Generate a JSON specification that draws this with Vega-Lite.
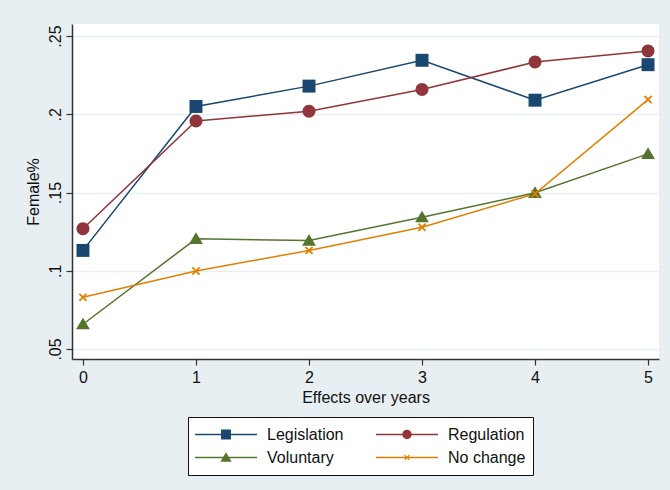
{
  "$schema": "https://vega.github.io/schema/vega-lite/v6.json",
  "width": 587,
  "height": 335,
  "autosize": {"type": "none"},
  "padding": {"left": 72, "top": 24, "right": 11, "bottom": 131},
  "background": "#e8eff2",
  "config": {
    "view": {"fill": "white", "stroke": null},
    "font": "Liberation Sans",
    "axis": {
      "labelFont": "Liberation Sans",
      "titleFont": "Liberation Sans",
      "labelFontSize": 16,
      "titleFontSize": 16,
      "titleFontWeight": "normal",
      "labelColor": "#111",
      "titleColor": "#111",
      "domainColor": "#333",
      "domainWidth": 1.5,
      "tickColor": "#333",
      "tickWidth": 1.2,
      "tickSize": 6
    },
    "legend": {
      "labelFont": "Liberation Sans",
      "labelFontSize": 16,
      "labelColor": "#111"
    }
  },
  "data": {
    "values": [
      {"year": 0, "series": "Legislation", "value": 0.113},
      {"year": 1, "series": "Legislation", "value": 0.205},
      {"year": 2, "series": "Legislation", "value": 0.218},
      {"year": 3, "series": "Legislation", "value": 0.2345},
      {"year": 4, "series": "Legislation", "value": 0.209},
      {"year": 5, "series": "Legislation", "value": 0.2317},
      {"year": 0, "series": "Regulation", "value": 0.1268},
      {"year": 1, "series": "Regulation", "value": 0.1957},
      {"year": 2, "series": "Regulation", "value": 0.2019},
      {"year": 3, "series": "Regulation", "value": 0.2158},
      {"year": 4, "series": "Regulation", "value": 0.2334},
      {"year": 5, "series": "Regulation", "value": 0.2404},
      {"year": 0, "series": "Voluntary", "value": 0.0658},
      {"year": 1, "series": "Voluntary", "value": 0.1204},
      {"year": 2, "series": "Voluntary", "value": 0.1193},
      {"year": 3, "series": "Voluntary", "value": 0.1342},
      {"year": 4, "series": "Voluntary", "value": 0.1498},
      {"year": 5, "series": "Voluntary", "value": 0.1747},
      {"year": 0, "series": "No change", "value": 0.083},
      {"year": 1, "series": "No change", "value": 0.0998},
      {"year": 2, "series": "No change", "value": 0.113},
      {"year": 3, "series": "No change", "value": 0.1278},
      {"year": 4, "series": "No change", "value": 0.1492},
      {"year": 5, "series": "No change", "value": 0.2094}
    ]
  },
  "encoding": {
    "x": {
      "field": "year",
      "type": "quantitative",
      "scale": {"domain": [-0.097, 5.097], "nice": false, "zero": false},
      "axis": {
        "values": [0, 1, 2, 3, 4, 5],
        "grid": false,
        "title": "Effects over years",
        "labelPadding": 4,
        "titlePadding": 4
      }
    },
    "y": {
      "field": "value",
      "type": "quantitative",
      "scale": {"domain": [0.0436, 0.2577], "nice": false, "zero": false},
      "axis": {
        "values": [0.05, 0.1, 0.15, 0.2, 0.25],
        "labelExpr": "substring(format(datum.value, '~g'), 1)",
        "labelAngle": 270,
        "labelAlign": "center",
        "labelBaseline": "bottom",
        "labelPadding": 3,
        "grid": true,
        "gridColor": "#e8eff2",
        "gridWidth": 1.5,
        "title": "Female%",
        "titlePadding": 6
      }
    },
    "color": {
      "field": "series",
      "type": "nominal",
      "scale": {
        "domain": ["Legislation", "Regulation", "Voluntary", "No change"],
        "range": ["#1a476f", "#90353b", "#55752f", "#e37e00"]
      }
    }
  },
  "layer": [
    {
      "mark": {"type": "line", "strokeWidth": 1.5}
    },
    {
      "transform": [{"filter": "datum.series === 'Legislation'"}],
      "mark": {"type": "point", "filled": true, "opacity": 1, "size": 144, "shape": "M-1.08,-1.08L1.08,-1.08L1.08,1.08L-1.08,1.08Z"}
    },
    {
      "transform": [{"filter": "datum.series === 'Regulation'"}],
      "mark": {"type": "point", "filled": true, "opacity": 1, "size": 144, "shape": "M1.08,0A1.08,1.08,0,1,1,-1.08,0A1.08,1.08,0,1,1,1.08,0Z"}
    },
    {
      "transform": [{"filter": "datum.series === 'Voluntary'"}],
      "mark": {"type": "point", "filled": true, "opacity": 1, "size": 144, "shape": "M0,-1.1L1.15,0.85L-1.15,0.85Z"}
    },
    {
      "transform": [{"filter": "datum.series === 'No change'"}],
      "mark": {"type": "point", "filled": true, "opacity": 1, "size": 144, "shape": "M-0.7,-0.49L-0.49,-0.7L0,-0.21L0.49,-0.7L0.7,-0.49L0.21,0L0.7,0.49L0.49,0.7L0,0.21L-0.49,0.7L-0.7,0.49L-0.21,0Z"}
    },
    {
      "mark": {"type": "point", "filled": true, "opacity": 0, "size": 10},
      "encoding": {
        "color": {
          "field": "series",
          "type": "nominal",
          "scale": {
            "domain": ["Legislation", "Regulation", "Voluntary", "No change"],
            "range": ["#1a476f", "#90353b", "#55752f", "#e37e00"]
          },
          "legend": {
            "title": null,
            "orient": "none",
            "legendX": 116,
            "legendY": 393,
            "columns": 2,
            "direction": "horizontal",
            "fillColor": "white",
            "strokeColor": "#111",
            "padding": 7,
            "symbolSize": 3844,
            "symbolOpacity": 1,
            "symbolStrokeWidth": 0,
            "clipHeight": 21,
            "rowPadding": 2,
            "columnPadding": 32,
            "labelOffset": 10
          }
        },
        "shape": {
          "field": "series",
          "type": "nominal",
          "scale": {
            "domain": ["Legislation", "Regulation", "Voluntary", "No change"],
            "range": [
              "M-1,-0.025L1,-0.025L1,0.025L-1,0.025ZM-0.16,-0.16L0.16,-0.16L0.16,0.16L-0.16,0.16Z",
              "M-1,-0.025L1,-0.025L1,0.025L-1,0.025ZM0.15,0A0.15,0.15,0,1,1,-0.15,0A0.15,0.15,0,1,1,0.15,0Z",
              "M-1,-0.025L1,-0.025L1,0.025L-1,0.025ZM0,-0.17L0.18,0.14L-0.18,0.14Z",
              "M-1,-0.025L1,-0.025L1,0.025L-1,0.025ZM-0.09,-0.063L-0.063,-0.09L0,-0.027L0.063,-0.09L0.09,-0.063L0.027,0L0.09,0.063L0.063,0.09L0,0.027L-0.063,0.09L-0.09,0.063L-0.027,0Z"
            ]
          },
          "legend": {
            "title": null,
            "orient": "none",
            "legendX": 116,
            "legendY": 393,
            "columns": 2,
            "direction": "horizontal",
            "fillColor": "white",
            "strokeColor": "#111",
            "padding": 7,
            "symbolSize": 3844,
            "symbolOpacity": 1,
            "symbolStrokeWidth": 0,
            "clipHeight": 21,
            "rowPadding": 2,
            "columnPadding": 32,
            "labelOffset": 10
          }
        }
      }
    }
  ]
}
